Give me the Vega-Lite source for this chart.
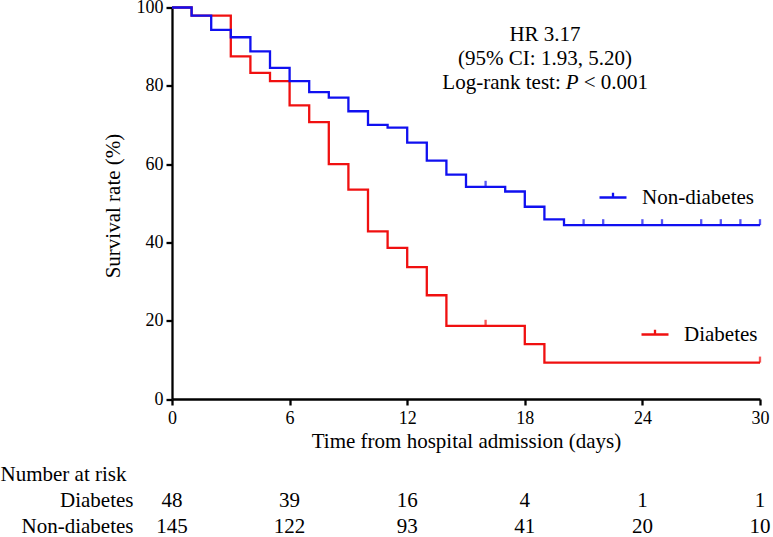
{
  "$schema": "https://vega.github.io/schema/vega-lite/v6.json",
  "width": 588,
  "height": 391.5,
  "autosize": {"type": "none"},
  "padding": {"left": 172, "top": 7.5, "right": 13, "bottom": 138},
  "datasets": {
    "km": [
      {"group": "Non-diabetes", "day": 0, "surv": 100},
      {"group": "Non-diabetes", "day": 1, "surv": 97.9},
      {"group": "Non-diabetes", "day": 2, "surv": 94.3},
      {"group": "Non-diabetes", "day": 3, "surv": 92.4},
      {"group": "Non-diabetes", "day": 4, "surv": 88.8},
      {"group": "Non-diabetes", "day": 5, "surv": 84.6},
      {"group": "Non-diabetes", "day": 6, "surv": 81.2},
      {"group": "Non-diabetes", "day": 7, "surv": 78.4},
      {"group": "Non-diabetes", "day": 8, "surv": 77.0},
      {"group": "Non-diabetes", "day": 9, "surv": 73.5},
      {"group": "Non-diabetes", "day": 10, "surv": 70.0},
      {"group": "Non-diabetes", "day": 11, "surv": 69.3},
      {"group": "Non-diabetes", "day": 12, "surv": 65.5},
      {"group": "Non-diabetes", "day": 13, "surv": 60.9},
      {"group": "Non-diabetes", "day": 14, "surv": 57.3},
      {"group": "Non-diabetes", "day": 15, "surv": 54.2},
      {"group": "Non-diabetes", "day": 17, "surv": 53.0},
      {"group": "Non-diabetes", "day": 18, "surv": 49.1},
      {"group": "Non-diabetes", "day": 19, "surv": 45.9},
      {"group": "Non-diabetes", "day": 20, "surv": 44.4},
      {"group": "Non-diabetes", "day": 30, "surv": 44.4},
      {"group": "Diabetes", "day": 0, "surv": 100},
      {"group": "Diabetes", "day": 1, "surv": 97.9},
      {"group": "Diabetes", "day": 3, "surv": 87.5},
      {"group": "Diabetes", "day": 4, "surv": 83.3},
      {"group": "Diabetes", "day": 5, "surv": 81.2},
      {"group": "Diabetes", "day": 6, "surv": 75.0},
      {"group": "Diabetes", "day": 7, "surv": 70.7},
      {"group": "Diabetes", "day": 8, "surv": 60.0},
      {"group": "Diabetes", "day": 9, "surv": 53.5},
      {"group": "Diabetes", "day": 10, "surv": 42.8},
      {"group": "Diabetes", "day": 11, "surv": 38.6},
      {"group": "Diabetes", "day": 12, "surv": 33.7},
      {"group": "Diabetes", "day": 13, "surv": 26.5},
      {"group": "Diabetes", "day": 14, "surv": 18.7},
      {"group": "Diabetes", "day": 18, "surv": 14.0},
      {"group": "Diabetes", "day": 19, "surv": 9.3},
      {"group": "Diabetes", "day": 30, "surv": 9.3}
    ],
    "censor": [
      {"group": "Non-diabetes", "day": 16, "surv": 54.2},
      {"group": "Non-diabetes", "day": 21, "surv": 44.4},
      {"group": "Non-diabetes", "day": 22, "surv": 44.4},
      {"group": "Non-diabetes", "day": 24, "surv": 44.4},
      {"group": "Non-diabetes", "day": 25, "surv": 44.4},
      {"group": "Non-diabetes", "day": 27, "surv": 44.4},
      {"group": "Non-diabetes", "day": 28, "surv": 44.4},
      {"group": "Non-diabetes", "day": 29, "surv": 44.4},
      {"group": "Non-diabetes", "day": 30, "surv": 44.4},
      {"group": "Diabetes", "day": 16, "surv": 18.7},
      {"group": "Diabetes", "day": 30, "surv": 9.3}
    ],
    "risk": [
      {"group": "Diabetes", "day": 0, "n": 48},
      {"group": "Diabetes", "day": 6, "n": 39},
      {"group": "Diabetes", "day": 12, "n": 16},
      {"group": "Diabetes", "day": 18, "n": 4},
      {"group": "Diabetes", "day": 24, "n": 1},
      {"group": "Diabetes", "day": 30, "n": 1},
      {"group": "Non-diabetes", "day": 0, "n": 145},
      {"group": "Non-diabetes", "day": 6, "n": 122},
      {"group": "Non-diabetes", "day": 12, "n": 93},
      {"group": "Non-diabetes", "day": 18, "n": 41},
      {"group": "Non-diabetes", "day": 24, "n": 20},
      {"group": "Non-diabetes", "day": 30, "n": 10}
    ]
  },
  "layer": [
    {
      "layer": [
        {
          "layer": [
            {
              "data": {"name": "km"},
              "transform": [{"filter": "datum.group === 'Diabetes'"}],
              "mark": {"type": "line", "interpolate": "step-after", "strokeWidth": 2.3},
              "encoding": {
                "x": {
                  "field": "day", "type": "quantitative",
                  "scale": {"domain": [0, 30], "nice": false},
                  "axis": {
                    "values": [0, 6, 12, 18, 24, 30],
                    "labelPadding": 4,
                    "title": "Time from hospital admission (days)",
                    "titleY": 42,
                    "titleBaseline": "middle"
                  }
                },
                "y": {
                  "field": "surv", "type": "quantitative",
                  "scale": {"domain": [0, 100], "nice": false},
                  "axis": {
                    "values": [0, 20, 40, 60, 80, 100],
                    "labelPadding": 3,
                    "title": "Survival rate (%)",
                    "titleX": -59,
                    "titleY": 198,
                    "titleBaseline": "middle"
                  }
                },
                "color": {
                  "field": "group", "type": "nominal",
                  "scale": {"domain": ["Diabetes"], "range": ["#f01010"]},
                  "legend": {"orient": "none", "legendX": 468, "legendY": 312}
                }
              }
            },
            {
              "data": {"name": "censor"},
              "transform": [{"filter": "datum.group === 'Diabetes'"}],
              "mark": {"type": "tick", "orient": "vertical", "size": 6, "thickness": 2.3, "yOffset": -3, "color": "#f01010"},
              "encoding": {
                "x": {"field": "day", "type": "quantitative"},
                "y": {"field": "surv", "type": "quantitative"}
              }
            }
          ]
        },
        {
          "layer": [
            {
              "data": {"name": "km"},
              "transform": [{"filter": "datum.group === 'Non-diabetes'"}],
              "mark": {"type": "line", "interpolate": "step-after", "strokeWidth": 2.3},
              "encoding": {
                "x": {"field": "day", "type": "quantitative"},
                "y": {"field": "surv", "type": "quantitative"},
                "color": {
                  "field": "group", "type": "nominal",
                  "scale": {"domain": ["Non-diabetes"], "range": ["#1010f0"]},
                  "legend": {"orient": "none", "legendX": 426, "legendY": 175}
                }
              }
            },
            {
              "data": {"name": "censor"},
              "transform": [{"filter": "datum.group === 'Non-diabetes'"}],
              "mark": {"type": "tick", "orient": "vertical", "size": 6, "thickness": 2.3, "yOffset": -3, "color": "#1010f0"},
              "encoding": {
                "x": {"field": "day", "type": "quantitative"},
                "y": {"field": "surv", "type": "quantitative"}
              }
            }
          ]
        },
        {
          "data": {"values": [{}]},
          "mark": {"type": "text", "align": "center", "baseline": "alphabetic", "lineHeight": 24.2, "text": ["HR 3.17", "(95% CI: 1.93, 5.20)"]},
          "encoding": {"x": {"datum": 19.03}, "y": {"datum": 91.5}}
        },
        {
          "data": {"values": [{}]},
          "mark": {"type": "text", "align": "right", "baseline": "alphabetic", "dx": -5, "text": "Log-rank test:"},
          "encoding": {"x": {"datum": 20.09}, "y": {"datum": 79.3}}
        },
        {
          "data": {"values": [{}]},
          "mark": {"type": "text", "align": "left", "baseline": "alphabetic", "fontStyle": "italic", "text": "P"},
          "encoding": {"x": {"datum": 20.09}, "y": {"datum": 79.3}}
        },
        {
          "data": {"values": [{}]},
          "mark": {"type": "text", "align": "left", "baseline": "alphabetic", "dx": 18, "text": "< 0.001"},
          "encoding": {"x": {"datum": 20.09}, "y": {"datum": 79.3}}
        }
      ],
      "resolve": {"scale": {"color": "independent"}}
    },
    {
      "data": {"name": "risk"},
      "mark": {"type": "text", "align": "center", "baseline": "middle"},
      "encoding": {
        "x": {"field": "day", "type": "quantitative"},
        "y": {
          "field": "group", "type": "nominal",
          "scale": {"domain": ["Diabetes", "Non-diabetes"], "range": [493, 519], "padding": 0},
          "axis": {
            "orient": "left",
            "domain": false,
            "ticks": false,
            "tickSize": 0,
            "labelPadding": 39,
            "labelFontSize": 21,
            "labelAlign": "right",
            "labelBaseline": "middle",
            "title": "Number at risk",
            "titleAngle": 0,
            "titleAlign": "left",
            "titleBaseline": "middle",
            "titleX": -172,
            "titleY": 466.5
          }
        },
        "text": {"field": "n", "type": "quantitative"}
      }
    }
  ],
  "resolve": {"scale": {"y": "independent"}, "axis": {"y": "independent"}},
  "config": {
    "font": "Liberation Serif, Times New Roman, serif",
    "view": {"stroke": null},
    "axis": {
      "domainColor": "black",
      "domainWidth": 2.3,
      "tickColor": "black",
      "tickWidth": 2.3,
      "tickSize": 6,
      "labelColor": "black",
      "labelFont": "Liberation Serif, Times New Roman, serif",
      "labelFontSize": 18,
      "titleFont": "Liberation Serif, Times New Roman, serif",
      "titleFontSize": 21,
      "titleFontWeight": "normal",
      "titleColor": "black",
      "grid": false,
      "labelFlush": false,
      "labelOverlap": false
    },
    "legend": {
      "title": null,
      "padding": 0,
      "offset": 0,
      "symbolType": "M-1,0H1M0,0V-0.35",
      "symbolSize": 729,
      "symbolStrokeWidth": 2.3,
      "symbolFillColor": "transparent",
      "labelFont": "Liberation Serif, Times New Roman, serif",
      "labelFontSize": 21,
      "labelColor": "black",
      "labelOffset": 14,
      "labelLimit": 300
    },
    "text": {"font": "Liberation Serif, Times New Roman, serif", "fontSize": 21, "color": "black"}
  }
}
